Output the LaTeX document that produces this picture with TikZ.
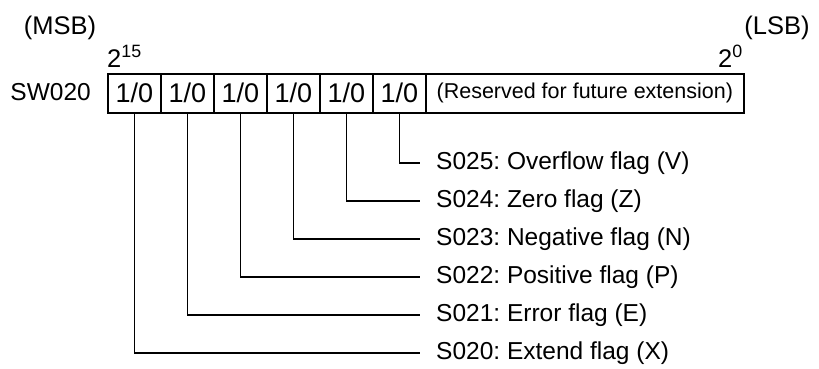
\documentclass[tikz,border=0pt]{standalone}
\usepackage{fontspec}
\setmainfont{Liberation Sans}
\usetikzlibrary{positioning}
\frenchspacing

\begin{document}
\begin{tikzpicture}[x=1pt,y=-1pt,
      bit/.style={draw,line width=1.6pt,minimum width=53pt,minimum height=39pt,
        inner sep=0pt,anchor=north west,font=\fontsize{27}{30}\selectfont},
      flg/.style={anchor=west,inner xsep=16pt,inner ysep=0pt,font=\fontsize{24.5}{28}\selectfont},
      tag/.style={inner sep=0pt,font=\fontsize{25.5}{29}\selectfont},
      ln/.style={line width=1.2pt}]
    \useasboundingbox (0,0) rectangle (819,369);
    \node[tag] (msb) at (60,28) {(MSB)};
    \node[tag] (lsb) at (777,28) {(LSB)};
    \node[tag,anchor=base west] (hi) at (107,67) {2\textsuperscript{15}};
    \node[tag,anchor=base east] (lo) at (743,67) {2\textsuperscript{0}};
    \node[tag,anchor=east,font=\fontsize{24.5}{28}\selectfont] (sw) at (91,92) {SW020};
    \foreach \i/\bx in {1/107,2/160,3/213,4/266,5/319,6/372} {
      \node[bit] (b\i) at (\bx,73) {1/0};
    }
    \node[bit,minimum width=318pt,font=\fontsize{21.5}{25}\selectfont] (res) at (425,73)
      {(Reserved for future extension)};
    \foreach \i/\txt/\ty in {1/{S020: Extend flag (X)}/353,2/{S021: Error flag (E)}/315,
        3/{S022: Positive flag (P)}/277,4/{S023: Negative flag (N)}/239,
        5/{S024: Zero flag (Z)}/201,6/{S025: Overflow flag (V)}/163} {
      \node[flg] (f\i) at (420,\ty) {\txt};
      \draw[ln] (b\i.south) |- (f\i.west);
    }
  \end{tikzpicture}
\end{document}
